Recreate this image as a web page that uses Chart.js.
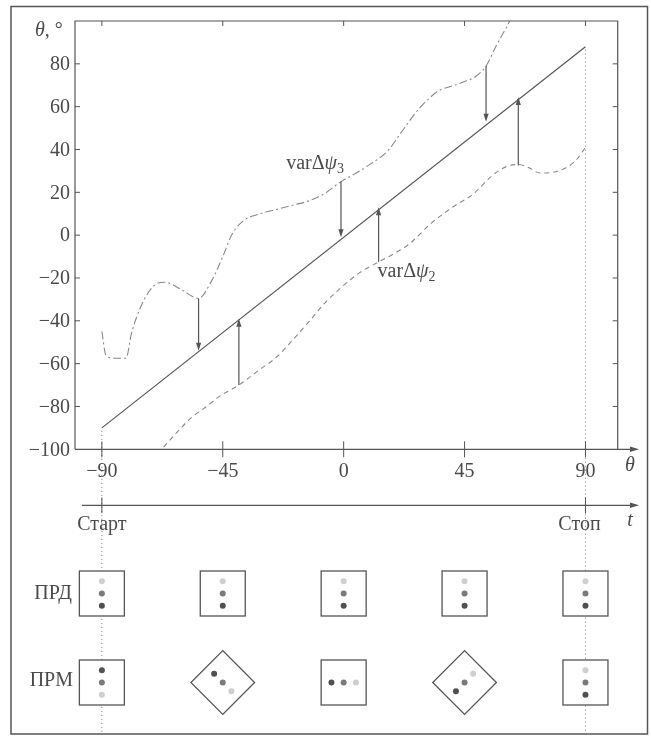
<!DOCTYPE html>
<html>
<head>
<meta charset="utf-8">
<script src="https://cdn.jsdelivr.net/npm/chart.js@4.4.1/dist/chart.umd.min.js"></script>
<style>
  html, body { margin: 0; padding: 0; background: #fff; }
  canvas { display: block; }
</style>
</head>
<body>
<canvas id="chart" width="651" height="736"></canvas>
<script>
// Axis ticks
const thetaTicks = [-90, -45, 0, 45, 90];
const angleTicks = [-100, -80, -60, -40, -20, 0, 20, 40, 60, 80];

// Solid line (beam direction)
const lineX = [-90, 90];
const lineY = [-90, 88];

// Upper bound, dash-dot (varΔψ3)
const upperX = [-90, -88.5, -85, -81, -79, -75, -70.5, -66.5, -61, -54, -49, -45, -41.5, -37, -31, -25, -19, -13, -7, -1, 4, 8.5, 16.5, 22, 28, 35.5, 40, 44.5, 49, 53, 57, 61, 63];
const upperY = [-45, -56, -57.5, -57.5, -46, -32, -23.5, -22, -25, -29.5, -21, -10, 0.5, 7, 10, 12, 14, 16, 19.5, 25, 28.5, 32, 39.5, 49, 59, 67.5, 69.5, 71.5, 74, 79, 89, 98, 103];

// Lower bound, dashed (varΔψ2)
const lowerX = [-67, -62, -56.5, -51, -46.5, -39, -31.5, -25, -19, -13, -6.5, -0.5, 6, 13, 19, 24.5, 33, 40.5, 48.5, 55, 60.5, 65, 69, 73, 80, 86.5, 90];
const lowerY = [-99, -92, -85, -80, -75.5, -70, -63, -57, -49, -40.5, -31, -24, -17.5, -12.5, -8.5, -4, 6, 13, 19.5, 27.5, 32, 33, 31.5, 29, 30, 35, 41];

// Arrows from the bounds to the line
const arrowX = [-54, -39, -1, 13, 53, 65];
const arrowFrom = [-29.5, -70, 25, -12.5, 79, 32.5];
const arrowTo = [-54, -39, -1, 13, 53, 64.5];

// Antenna sketches below the axis
const schemeTheta = [-90, -45, 0, 45, 90];
const rowNames = ['ПРД', 'ПРМ'];
const timeLabels = ['Старт', 'Стоп'];

const ink = '#4a4a4a';
const serif = '"Liberation Serif", "DejaVu Serif", serif';

function pts(xs, ys) {
    return xs.map((v, i) => ({ x: v, y: ys[i] }));
}

function arrowHead(ctx, x, y, dx, dy, len, half) {
    const nx = -dy, ny = dx;
    ctx.beginPath();
    ctx.moveTo(x, y);
    ctx.lineTo(x - dx * len + nx * half, y - dy * len + ny * half);
    ctx.lineTo(x - dx * len - nx * half, y - dy * len - ny * half);
    ctx.closePath();
    ctx.fill();
}

// draw mixed-style text, parts: [text, style] with style '', 'i' or 'sub'
function richText(ctx, parts, x, y, align) {
    const fontOf = s => s === 'i' ? 'italic 20px ' + serif : (s === 'sub' ? '14px ' + serif : '20px ' + serif);
    let w = 0;
    parts.forEach(p => { ctx.font = fontOf(p[1]); w += ctx.measureText(p[0]).width; });
    let cx = align === 'right' ? x - w : (align === 'center' ? x - w / 2 : x);
    ctx.textAlign = 'left';
    ctx.textBaseline = 'middle';
    parts.forEach(p => {
        ctx.font = fontOf(p[1]);
        ctx.fillText(p[0], cx, p[1] === 'sub' ? y + 6 : y);
        cx += ctx.measureText(p[0]).width;
    });
}

function drawSensor(ctx, cx, cy, rot, dir) {
    ctx.save();
    ctx.translate(cx, cy);
    ctx.rotate(rot);
    ctx.fillStyle = '#fff';
    ctx.fillRect(-22.5, -22.5, 45, 45);
    ctx.strokeStyle = '#555';
    ctx.lineWidth = 1.3;
    ctx.strokeRect(-22.5, -22.5, 45, 45);
    ctx.restore();
    const colors = ['#cfcfcf', '#7a7a7a', '#505050'];
    [-1, 0, 1].forEach((k, i) => {
        ctx.fillStyle = colors[i];
        ctx.beginPath();
        ctx.arc(cx + k * 12.2 * Math.cos(dir), cy + k * 12.2 * Math.sin(dir), 3, 0, Math.PI * 2);
        ctx.fill();
    });
}

const decorPlugin = {
    id: 'decor',
    beforeDatasetsDraw(chart) {
        const { ctx, chartArea: a, scales: { x, y } } = chart;
        ctx.save();
        // dotted start/stop lines
        ctx.strokeStyle = '#777';
        ctx.lineWidth = 1;
        ctx.setLineDash([1, 3]);
        [0, lineX.length - 1].forEach(i => {
            const px = x.getPixelForValue(lineX[i]);
            ctx.beginPath();
            ctx.moveTo(px, y.getPixelForValue(lineY[i]) + 3);
            ctx.lineTo(px, 733);
            ctx.stroke();
        });
        ctx.restore();
    },
    afterDraw(chart) {
        const { ctx, chartArea: a, scales: { x, y } } = chart;
        ctx.save();
        ctx.strokeStyle = '#555';
        ctx.fillStyle = '#555';

        // outer frame
        ctx.lineWidth = 1.5;
        ctx.strokeRect(11, 6.5, 636.5, 727.5);

        // plot box
        ctx.lineWidth = 1.2;
        ctx.beginPath();
        ctx.moveTo(a.left, a.bottom);
        ctx.lineTo(a.left, a.top);
        ctx.lineTo(a.right, a.top);
        ctx.lineTo(a.right, a.bottom);
        ctx.stroke();

        // θ axis and t axis with arrows
        const tY = a.bottom + 56;
        ctx.beginPath();
        ctx.moveTo(a.left, a.bottom);
        ctx.lineTo(636, a.bottom);
        ctx.moveTo(82, tY);
        ctx.lineTo(636, tY);
        ctx.stroke();
        arrowHead(ctx, 639, a.bottom, 1, 0, 9, 2.8);
        arrowHead(ctx, 639, tY, 1, 0, 9, 2.8);

        // ticks
        ctx.lineWidth = 1;
        ctx.beginPath();
        angleTicks.forEach(v => {
            if (v === -100) return;
            const py = y.getPixelForValue(v);
            ctx.moveTo(a.left, py); ctx.lineTo(a.left + 5, py);
            ctx.moveTo(a.right, py); ctx.lineTo(a.right - 5, py);
        });
        thetaTicks.forEach(v => {
            const px = x.getPixelForValue(v);
            ctx.moveTo(px, a.bottom - 8); ctx.lineTo(px, a.bottom + 8);
            ctx.moveTo(px, a.top); ctx.lineTo(px, a.top + 5);
        });
        [thetaTicks[0], thetaTicks[thetaTicks.length - 1]].forEach(v => {
            const px = x.getPixelForValue(v);
            ctx.moveTo(px, tY - 8); ctx.lineTo(px, tY + 8);
        });
        ctx.stroke();

        // tick labels
        ctx.fillStyle = ink;
        ctx.font = '20px ' + serif;
        ctx.textAlign = 'right';
        ctx.textBaseline = 'middle';
        angleTicks.forEach(v => {
            ctx.fillText(String(v).replace('-', '−'), a.left - 5, y.getPixelForValue(v) + 1);
        });
        ctx.textAlign = 'center';
        thetaTicks.forEach(v => {
            ctx.fillText(String(v).replace('-', '−'), x.getPixelForValue(v), a.bottom + 22);
        });
        ctx.fillText(timeLabels[0], x.getPixelForValue(thetaTicks[0]), tY + 19);
        ctx.fillText(timeLabels[1], x.getPixelForValue(thetaTicks[thetaTicks.length - 1]) - 6, tY + 19);

        // axis names
        richText(ctx, [['θ', 'i'], [', °', '']], 35, 31, 'left');
        richText(ctx, [['θ', 'i']], 630, a.bottom + 16, 'center');
        richText(ctx, [['t', 'i']], 630, tY + 15, 'center');

        // arrows
        ctx.strokeStyle = '#555';
        ctx.fillStyle = '#555';
        ctx.lineWidth = 1.2;
        arrowX.forEach((v, i) => {
            const px = x.getPixelForValue(v);
            const y0 = y.getPixelForValue(arrowFrom[i]);
            const y1 = y.getPixelForValue(arrowTo[i]);
            const d = Math.sign(y1 - y0);
            ctx.beginPath();
            ctx.moveTo(px, y0);
            ctx.lineTo(px, y1 - d * 6);
            ctx.stroke();
            arrowHead(ctx, px, y1, 0, d, 8, 2.6);
        });

        // bound labels
        ctx.fillStyle = ink;
        richText(ctx, [['varΔ', ''], ['ψ', 'i'], ['3', 'sub']], x.getPixelForValue(arrowX[2]) + 3, y.getPixelForValue(33.5), 'right');
        richText(ctx, [['varΔ', ''], ['ψ', 'i'], ['2', 'sub']], x.getPixelForValue(arrowX[3]) - 1, y.getPixelForValue(-17), 'left');

        // transmitter / receiver sketches
        const rows = [593.5, 682.5];
        ctx.font = '20px ' + serif;
        ctx.textAlign = 'right';
        ctx.textBaseline = 'middle';
        ctx.fillStyle = ink;
        ctx.fillText(rowNames[0], 72, rows[0]);
        ctx.fillText(rowNames[1], 73, rows[1] - 2);
        schemeTheta.forEach(t => {
            const px = x.getPixelForValue(t);
            drawSensor(ctx, px, rows[0], 0, Math.PI / 2);
            drawSensor(ctx, px, rows[1], (t % 90) * Math.PI / 180, (-180 - t) * Math.PI / 180);
        });
        ctx.restore();
    }
};

const ctx = document.getElementById('chart').getContext('2d');
new Chart(ctx, {
    type: 'scatter',
    data: {
        datasets: [{
            data: pts(lineX, lineY),
            showLine: true,
            borderColor: '#555',
            borderWidth: 1.2,
            pointRadius: 0
        }, {
            data: pts(upperX, upperY),
            showLine: true,
            borderColor: '#888',
            borderWidth: 1.1,
            borderDash: [8, 3, 2, 3],
            cubicInterpolationMode: 'monotone',
            pointRadius: 0
        }, {
            data: pts(lowerX, lowerY),
            showLine: true,
            borderColor: '#888',
            borderWidth: 1.1,
            borderDash: [5, 4],
            cubicInterpolationMode: 'monotone',
            pointRadius: 0
        }]
    },
    options: {
        responsive: false,
        animation: false,
        events: [],
        layout: {
            padding: { left: 75, top: 21, right: 33.3, bottom: 286.7 }
        },
        plugins: {
            legend: { display: false },
            tooltip: { enabled: false }
        },
        scales: {
            x: { type: 'linear', min: -100, max: 102, display: false },
            y: { type: 'linear', min: -100, max: 100, display: false }
        }
    },
    plugins: [decorPlugin]
});
</script>
</body>
</html>
